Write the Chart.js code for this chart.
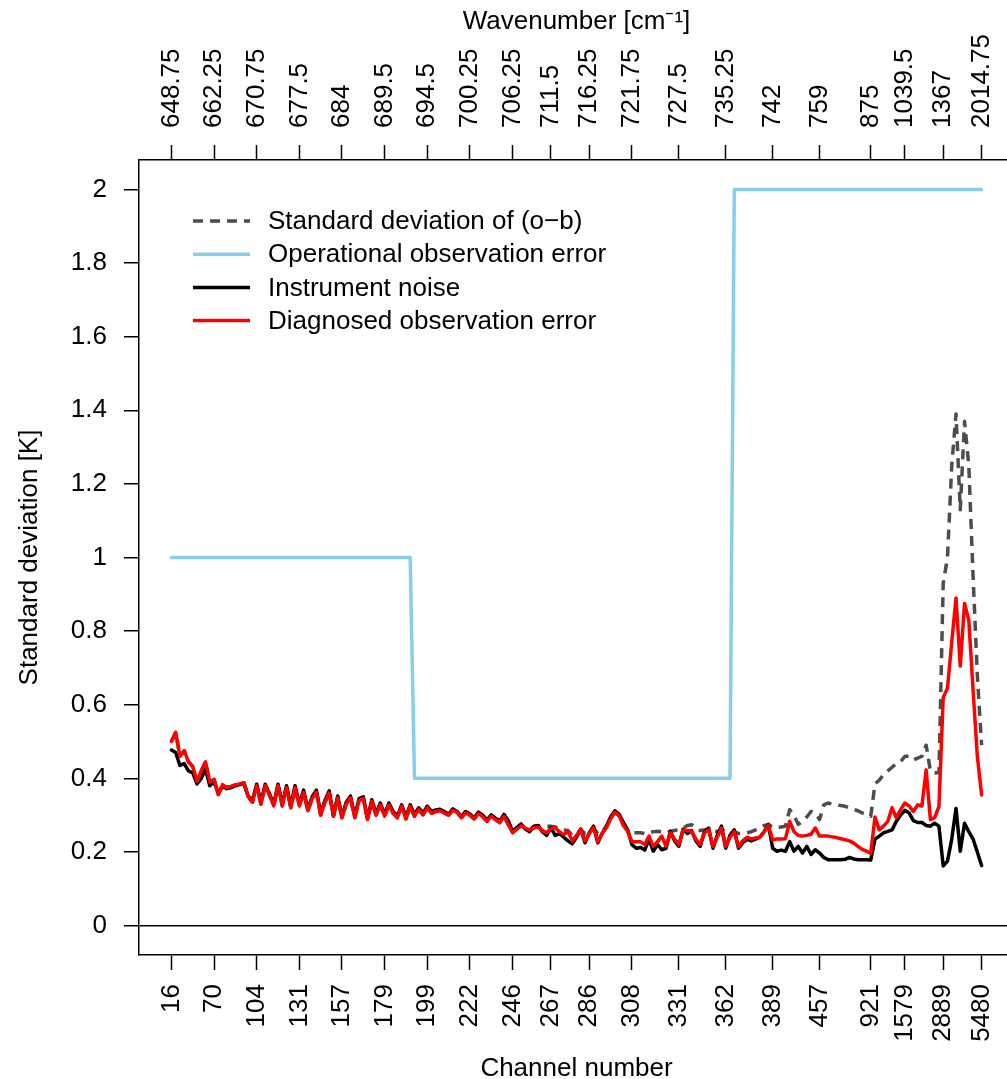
<!DOCTYPE html>
<html>
<head>
<meta charset="utf-8">
<title>Standard deviation per channel</title>
<script src="https://cdn.jsdelivr.net/npm/chart.js@4.4.1/dist/chart.umd.min.js"></script>
<style>
  html, body { margin: 0; padding: 0; overflow: hidden; background: #fff; }
  /* plot box runs a little past the right edge of the window, as in the original */
  #wrap { width: 1040px; height: 1079px; }
</style>
</head>
<body>
<div id="wrap"><canvas id="chart"></canvas></div>
<script>
// channel list (x axis is the position in this list)
const channels = [
  16, 38, 49, 51, 55, 57, 59, 61, 63, 66,
  70, 72, 74, 79, 81, 83, 87, 89, 95, 99,
  104, 106, 109, 111, 113, 116, 119, 122, 125, 128,
  131, 133, 135, 138, 141, 144, 146, 148, 151, 154,
  157, 159, 161, 163, 165, 167, 169, 170, 173, 176,
  179, 180, 183, 185, 187, 189, 191, 193, 195, 197,
  199, 201, 203, 205, 207, 210, 212, 214, 217, 219,
  222, 224, 226, 228, 230, 232, 236, 239, 242, 243,
  246, 249, 252, 254, 256, 258, 260, 262, 265,
  267, 269, 271, 273, 275, 278, 280, 282, 284,
  286, 288, 290, 292, 294, 296, 298, 299, 303, 306,
  308, 310, 312, 314, 316, 318, 320, 323, 325, 327, 329,
  331, 333, 335, 337, 339, 341, 345, 347, 350, 354, 356,
  362, 366, 369, 371, 373, 375, 377, 379, 381, 383, 386,
  389, 398, 401, 404, 407, 410, 414, 416, 426, 432, 439,
  457, 515, 546, 552, 559, 566, 571, 573, 646, 662, 756, 867,
  921, 1027, 1046, 1121, 1133, 1191, 1194, 1271,
  1579, 1585, 1626, 1639, 1643, 1652, 1658, 1671, 1805,
  2889, 2907, 2919, 2939, 2951, 2991, 3002, 3049, 5403,
  5480
];

// positions in the channel list that carry a tick, and the matching wavenumbers
const tickIdx = [0, 10, 20, 30, 40, 50, 60, 70, 80, 89, 98, 108, 119, 130, 141, 152, 164, 172, 181, 190];
const wavenumberLabels = ['648.75', '662.25', '670.75', '677.5', '684', '689.5', '694.5', '700.25', '706.25', '711.5',
  '716.25', '721.75', '727.5', '735.25', '742', '759', '875', '1039.5', '1367', '2014.75'];
const yTicks = [0, 0.2, 0.4, 0.6, 0.8, 1, 1.2, 1.4, 1.6, 1.8, 2];

// standard deviation of (o-b)
const ombStd = [
  0.50, 0.525, 0.46, 0.475, 0.445, 0.432, 0.392, 0.42, 0.445, 0.39,
  0.397, 0.356, 0.383, 0.375, 0.378, 0.382, 0.385, 0.388, 0.35, 0.335,
  0.38, 0.33, 0.38, 0.355, 0.325, 0.38, 0.325, 0.375, 0.32, 0.375,
  0.325, 0.362, 0.312, 0.345, 0.362, 0.30, 0.335, 0.36, 0.297, 0.347,
  0.293, 0.33, 0.347, 0.293, 0.34, 0.345, 0.288, 0.337, 0.30, 0.328,
  0.297, 0.328, 0.305, 0.293, 0.324, 0.29, 0.324, 0.297, 0.315, 0.301,
  0.32, 0.305, 0.31, 0.312, 0.306, 0.30, 0.313, 0.308, 0.293, 0.306,
  0.30, 0.29, 0.304, 0.296, 0.283, 0.297, 0.288, 0.28, 0.297, 0.275,
  0.26, 0.265, 0.271, 0.266, 0.264, 0.267, 0.27, 0.27, 0.27, 0.27,
  0.268, 0.262, 0.26, 0.258, 0.245, 0.25, 0.26, 0.25, 0.255, 0.265,
  0.25, 0.255, 0.268, 0.29, 0.308, 0.298, 0.272, 0.258, 0.252, 0.252,
  0.252, 0.25, 0.252, 0.255, 0.256, 0.255, 0.252, 0.256, 0.258, 0.262,
  0.265, 0.272, 0.274, 0.265, 0.258, 0.26, 0.262, 0.258, 0.255, 0.26,
  0.255, 0.25, 0.255, 0.25, 0.25, 0.252, 0.255, 0.26, 0.265, 0.272,
  0.274, 0.268, 0.265, 0.268, 0.27, 0.315, 0.30, 0.275, 0.283, 0.295,
  0.31, 0.305, 0.288, 0.328, 0.333, 0.33, 0.328, 0.326, 0.324, 0.32,
  0.316, 0.312, 0.306, 0.302, 0.297, 0.385, 0.395, 0.41, 0.42, 0.43,
  0.44, 0.445, 0.46, 0.46, 0.45, 0.455, 0.46, 0.49, 0.42, 0.415,
  0.415, 0.93, 1.0, 1.25, 1.39, 1.13, 1.37, 1.25, 0.95, 0.68,
  0.49
];

// operational observation error
const opError = [
  1, 1, 1, 1, 1, 1, 1, 1, 1, 1,
  1, 1, 1, 1, 1, 1, 1, 1, 1, 1,
  1, 1, 1, 1, 1, 1, 1, 1, 1, 1,
  1, 1, 1, 1, 1, 1, 1, 1, 1, 1,
  1, 1, 1, 1, 1, 1, 1, 1, 1, 1,
  1, 1, 1, 1, 1, 1, 1, 0.4, 0.4, 0.4,
  0.4, 0.4, 0.4, 0.4, 0.4, 0.4, 0.4, 0.4, 0.4, 0.4,
  0.4, 0.4, 0.4, 0.4, 0.4, 0.4, 0.4, 0.4, 0.4, 0.4,
  0.4, 0.4, 0.4, 0.4, 0.4, 0.4, 0.4, 0.4, 0.4, 0.4,
  0.4, 0.4, 0.4, 0.4, 0.4, 0.4, 0.4, 0.4, 0.4, 0.4,
  0.4, 0.4, 0.4, 0.4, 0.4, 0.4, 0.4, 0.4, 0.4, 0.4,
  0.4, 0.4, 0.4, 0.4, 0.4, 0.4, 0.4, 0.4, 0.4, 0.4,
  0.4, 0.4, 0.4, 0.4, 0.4, 0.4, 0.4, 0.4, 0.4, 0.4,
  0.4, 0.4, 2, 2, 2, 2, 2, 2, 2, 2,
  2, 2, 2, 2, 2, 2, 2, 2, 2, 2,
  2, 2, 2, 2, 2, 2, 2, 2, 2, 2,
  2, 2, 2, 2, 2, 2, 2, 2, 2, 2,
  2, 2, 2, 2, 2, 2, 2, 2, 2, 2,
  2, 2, 2, 2, 2, 2, 2, 2, 2, 2,
  2
];

// instrument noise
const noise = [
  0.477, 0.47, 0.435, 0.44, 0.42, 0.415, 0.385, 0.40, 0.425, 0.38,
  0.39, 0.36, 0.378, 0.372, 0.375, 0.38, 0.383, 0.386, 0.352, 0.34,
  0.384, 0.335, 0.384, 0.358, 0.33, 0.384, 0.33, 0.38, 0.325, 0.38,
  0.33, 0.368, 0.316, 0.35, 0.368, 0.305, 0.34, 0.366, 0.30, 0.352,
  0.297, 0.335, 0.352, 0.297, 0.345, 0.35, 0.292, 0.342, 0.305, 0.333,
  0.302, 0.333, 0.31, 0.298, 0.328, 0.295, 0.328, 0.302, 0.32, 0.306,
  0.324, 0.31, 0.314, 0.316, 0.31, 0.302, 0.317, 0.31, 0.296, 0.31,
  0.303, 0.293, 0.308, 0.30, 0.287, 0.301, 0.292, 0.284, 0.302, 0.285,
  0.256, 0.266, 0.276, 0.262, 0.255, 0.27, 0.272, 0.255, 0.245, 0.266,
  0.245, 0.25, 0.24, 0.23, 0.222, 0.24, 0.262, 0.225, 0.252, 0.27,
  0.225, 0.25, 0.27, 0.295, 0.312, 0.302, 0.28, 0.26, 0.22, 0.21,
  0.212, 0.205, 0.235, 0.202, 0.22, 0.206, 0.21, 0.256, 0.23, 0.215,
  0.262, 0.25, 0.258, 0.23, 0.215, 0.255, 0.265, 0.21, 0.245, 0.27,
  0.21, 0.245, 0.26, 0.21, 0.225, 0.235, 0.23, 0.235, 0.24, 0.255,
  0.275, 0.21, 0.202, 0.205, 0.202, 0.228, 0.202, 0.215, 0.197, 0.215,
  0.193, 0.206, 0.197, 0.185, 0.179, 0.179, 0.179, 0.179, 0.18, 0.185,
  0.181, 0.179, 0.179, 0.179, 0.178, 0.235, 0.243, 0.252, 0.256, 0.26,
  0.283, 0.30, 0.313, 0.306, 0.285, 0.28, 0.28, 0.272, 0.27, 0.278,
  0.27, 0.162, 0.175, 0.235, 0.318, 0.202, 0.278, 0.255, 0.235, 0.20,
  0.163
];

// diagnosed observation error
const diagError = [
  0.50, 0.525, 0.46, 0.475, 0.445, 0.432, 0.392, 0.42, 0.445, 0.39,
  0.397, 0.356, 0.383, 0.375, 0.378, 0.382, 0.385, 0.388, 0.35, 0.335,
  0.38, 0.33, 0.38, 0.355, 0.325, 0.38, 0.325, 0.375, 0.32, 0.375,
  0.325, 0.362, 0.312, 0.345, 0.362, 0.30, 0.335, 0.36, 0.297, 0.347,
  0.293, 0.33, 0.347, 0.293, 0.34, 0.345, 0.288, 0.337, 0.30, 0.328,
  0.297, 0.328, 0.305, 0.293, 0.324, 0.29, 0.324, 0.297, 0.315, 0.301,
  0.32, 0.305, 0.31, 0.312, 0.306, 0.30, 0.313, 0.308, 0.293, 0.306,
  0.30, 0.29, 0.304, 0.296, 0.283, 0.297, 0.288, 0.28, 0.297, 0.275,
  0.252, 0.262, 0.271, 0.265, 0.26, 0.265, 0.268, 0.258, 0.252, 0.264,
  0.266, 0.255, 0.247, 0.256, 0.23, 0.245, 0.26, 0.23, 0.25, 0.266,
  0.228, 0.25, 0.266, 0.29, 0.308, 0.298, 0.272, 0.256, 0.228, 0.228,
  0.228, 0.22, 0.243, 0.215, 0.228, 0.243, 0.215, 0.252, 0.235, 0.22,
  0.26, 0.258, 0.256, 0.235, 0.22, 0.252, 0.26, 0.215, 0.24, 0.265,
  0.215, 0.24, 0.255, 0.215, 0.23, 0.24, 0.235, 0.238, 0.24, 0.255,
  0.272, 0.233, 0.235, 0.235, 0.236, 0.283, 0.255, 0.245, 0.243, 0.245,
  0.248, 0.265, 0.243, 0.243, 0.243, 0.241, 0.239, 0.236, 0.233, 0.23,
  0.224, 0.215, 0.207, 0.202, 0.196, 0.295, 0.26, 0.27, 0.283, 0.32,
  0.293, 0.315, 0.333, 0.325, 0.31, 0.328, 0.325, 0.423, 0.288, 0.293,
  0.324, 0.62, 0.645, 0.77, 0.89, 0.705, 0.875, 0.83, 0.64, 0.46,
  0.355
];

const FONT = "'Liberation Sans', Arial, Helvetica, sans-serif";
const FS = 26;

const series = [
  { label: 'Standard deviation of (o\u2212b)', data: ombStd, color: '#4d4d4d', dash: [10, 7], order: 4 },
  { label: 'Operational observation error', data: opError, color: '#87ceeb', dash: [], order: 3 },
  { label: 'Instrument noise', data: noise, color: '#000000', dash: [], order: 2 },
  { label: 'Diagnosed observation error', data: diagError, color: '#ff0000', dash: [], order: 1 }
];

// legend sits inside the plot box, top left, without a frame
const boxLegend = {
  id: 'boxLegend',
  afterDraw(chart) {
    const { ctx, chartArea } = chart;
    const x0 = chartArea.left + 54;
    ctx.save();
    ctx.font = FS + 'px ' + FONT;
    ctx.textBaseline = 'middle';
    series.forEach((s, i) => {
      const y = chartArea.top + 61 + i * 33.2;
      ctx.beginPath();
      ctx.setLineDash(s.dash);
      ctx.lineWidth = 3.5;
      ctx.strokeStyle = s.color;
      ctx.moveTo(x0, y);
      ctx.lineTo(x0 + 57, y);
      ctx.stroke();
      ctx.setLineDash([]);
      ctx.fillStyle = '#000';
      ctx.fillText(s.label, x0 + 75, y + 1);
    });
    ctx.restore();
  }
};

const tickFont = { family: FONT, size: FS, lineHeight: 1.2 };
const titleFont = { family: FONT, size: FS, lineHeight: 1 };
const xMin = -7.6, xMax = 197.6;

new Chart(document.getElementById('chart'), {
  type: 'line',
  data: {
    datasets: series.map(s => ({
      label: s.label,
      data: s.data.map((v, i) => ({ x: i, y: v })),
      borderColor: s.color,
      borderDash: s.dash,
      borderWidth: 3.5,
      borderJoinStyle: 'round',
      borderCapStyle: s.dash.length ? 'butt' : 'round',
      pointRadius: 0,
      tension: 0,
      fill: false,
      order: s.order
    }))
  },
  options: {
    responsive: true,
    maintainAspectRatio: false,
    animation: false,
    devicePixelRatio: 1,
    layout: { padding: { left: 0, right: 26, top: 0, bottom: 0 } },
    plugins: { legend: { display: false }, tooltip: { enabled: false } },
    scales: {
      x: {
        type: 'linear', position: 'bottom', min: xMin, max: xMax, bounds: 'data',
        afterBuildTicks: s => { s.ticks = tickIdx.map(v => ({ value: v })); },
        afterFit: s => { s.height = 124; },
        ticks: { autoSkip: false, minRotation: 90, maxRotation: 90, padding: 14, color: '#000', font: tickFont,
          callback: v => String(channels[v]) },
        grid: { drawOnChartArea: false, drawTicks: true, tickLength: 15, tickColor: '#000', tickWidth: 1.5 },
        border: { display: true, color: '#000', width: 1.5 },
        title: { display: true, text: 'Channel number', color: '#000', font: titleFont, padding: { top: 0, bottom: -3 } }
      },
      x2: {
        type: 'linear', position: 'top', min: xMin, max: xMax, bounds: 'data',
        afterBuildTicks: s => { s.ticks = tickIdx.map(v => ({ value: v })); },
        afterFit: s => { s.height = 160; },
        // rotated labels on a top axis sit one line height left of their tick
        ticks: { autoSkip: false, minRotation: 90, maxRotation: 90, padding: 17, labelOffset: FS * 1.2, color: '#000', font: tickFont,
          callback: (v, i) => wavenumberLabels[i] },
        grid: { drawOnChartArea: false, drawTicks: true, tickLength: 15, tickColor: '#000', tickWidth: 1.5 },
        border: { display: true, color: '#000', width: 1.5 },
        title: { display: true, text: 'Wavenumber [cm\u207B\u00B9]', color: '#000', font: titleFont, padding: { top: 9, bottom: 0 } }
      },
      y: {
        type: 'linear', position: 'left', min: -0.08, max: 2.08, bounds: 'data',
        afterBuildTicks: s => { s.ticks = yTicks.map(v => ({ value: v })); },
        afterFit: s => { s.width = 139; },
        ticks: { padding: 17, color: '#000', font: tickFont, callback: v => String(v) },
        grid: {
          drawOnChartArea: true, drawTicks: true, tickLength: 15, tickColor: '#000', tickWidth: 1.5,
          color: c => (c.tick && c.tick.value === 0) ? '#000' : 'rgba(0,0,0,0)', lineWidth: 1.5
        },
        border: { display: true, color: '#000', width: 1.5 },
        title: { display: true, text: 'Standard deviation [K]', color: '#000', font: titleFont, padding: { top: 17, bottom: 0 } }
      }
    }
  },
  plugins: [boxLegend]
});
</script>
</body>
</html>
